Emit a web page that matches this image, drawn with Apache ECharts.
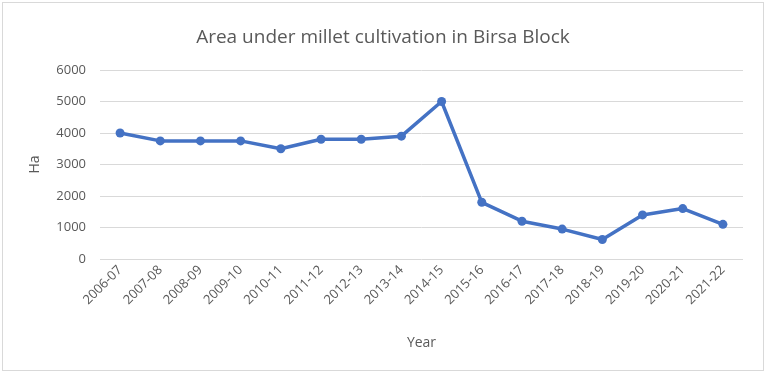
<!DOCTYPE html>
<html>
<head>
<meta charset="utf-8">
<script src="https://cdn.jsdelivr.net/npm/echarts@6/dist/echarts.min.js"></script>
<style>
  html, body { margin: 0; padding: 0; background: #fff; }
  #chart {
    position: absolute;
    left: 2px;
    top: 2px;
    width: 760px;
    height: 367px;
    border: 1px solid #d9d9d9;
  }
</style>
</head>
<body>
<div id="chart"></div>
<script>
const years = [
  '2006-07', '2007-08', '2008-09', '2009-10', '2010-11', '2011-12', '2012-13', '2013-14',
  '2014-15', '2015-16', '2016-17', '2017-18', '2018-19', '2019-20', '2020-21', '2021-22'
]

// area in hectares
const areaHa = [4000, 3750, 3750, 3750, 3500, 3800, 3800, 3900, 5000, 1800, 1200, 950, 620, 1400, 1600, 1100]

const yTicks = { min: 0, max: 6000, interval: 1000 }

const font = '"Open Sans", "Liberation Sans", sans-serif'
const textColor = '#595959'

const chart = echarts.init(document.getElementById('chart'))

chart.setOption({
  animation: false,
  title: {
    text: 'Area under millet cultivation in Birsa Block',
    left: 'center',
    top: 20,
    textStyle: { color: textColor, fontSize: 19, fontWeight: 'normal', fontFamily: font }
  },
  grid: {
    left: 97,
    right: 20,
    top: 67,
    bottom: 111
  },
  xAxis: {
    type: 'category',
    data: years,
    boundaryGap: true,
    name: 'Year',
    nameLocation: 'middle',
    nameGap: 77,
    nameTextStyle: { color: textColor, fontSize: 14, fontFamily: font },
    axisLine: { show: false },
    axisTick: { show: false },
    axisLabel: {
      color: textColor,
      fontSize: 13,
      fontFamily: font,
      rotate: 45,
      interval: 0,
      margin: 9
    }
  },
  yAxis: {
    type: 'value',
    min: yTicks.min,
    max: yTicks.max,
    interval: yTicks.interval,
    name: 'Ha',
    nameLocation: 'middle',
    nameGap: 58,
    nameTextStyle: { color: textColor, fontSize: 14, fontFamily: font },
    axisLine: { show: false },
    axisTick: { show: false },
    axisLabel: {
      color: textColor,
      fontSize: 13,
      fontFamily: font,
      margin: 14,
      formatter: v => String(v)
    },
    splitLine: { lineStyle: { color: '#d9d9d9', width: 1 } }
  },
  series: [{
    type: 'line',
    data: areaHa,
    symbol: 'circle',
    symbolSize: 9,
    lineStyle: { color: '#4472c4', width: 3.5 },
    itemStyle: { color: '#4472c4' }
  }]
})
</script>
</body>
</html>
